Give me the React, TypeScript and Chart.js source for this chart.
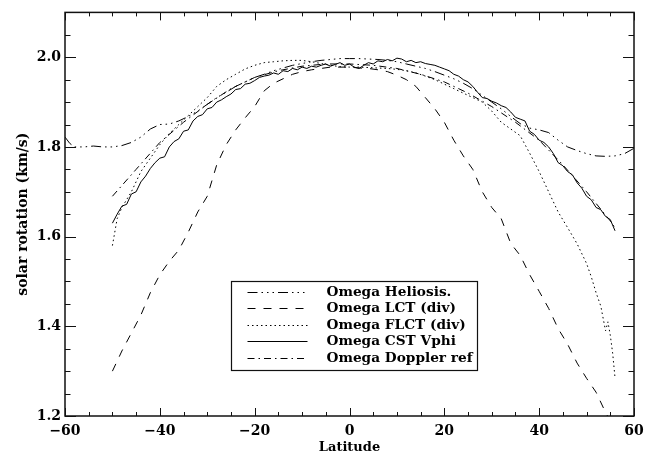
import React, { useEffect, useRef } from 'react';
import { Chart, registerables } from 'chart.js';

Chart.register(...registerables);

// ---------- data ----------
const X_TICKS = [-60, -40, -20, 0, 20, 40, 60];
const Y_TICKS = [1.2, 1.4, 1.6, 1.8, 2.0];

const SERIES_NAMES = [
  'Omega Heliosis.',
  'Omega LCT (div)',
  'Omega FLCT (div)',
  'Omega CST Vphi',
  'Omega Doppler ref',
];

const HELIOSIS_LAT = [-60, -59, -58, -56, -54, -52, -50, -48, -46, -44, -42, -40, -38, -36, -34, -32, -30, -28, -26, -24, -22, -20, -18, -16, -14, -12, -10, -8, -6, -4, -2, 0, 2, 4, 6, 8, 10, 12, 14, 16, 18, 20, 22, 24, 26, 28, 30, 32, 34, 36, 38, 40, 42, 44, 46, 48, 50, 52, 54, 56, 58, 60];
const HELIOSIS_VAL = [1.822, 1.808, 1.800, 1.800, 1.802, 1.800, 1.800, 1.803, 1.810, 1.822, 1.840, 1.850, 1.851, 1.858, 1.868, 1.880, 1.895, 1.910, 1.922, 1.935, 1.945, 1.955, 1.962, 1.970, 1.976, 1.982, 1.986, 1.990, 1.993, 1.995, 1.997, 1.997, 1.997, 1.996, 1.995, 1.993, 1.990, 1.985, 1.980, 1.975, 1.968, 1.960, 1.952, 1.942, 1.930, 1.915, 1.900, 1.885, 1.868, 1.852, 1.842, 1.838, 1.832, 1.815, 1.800, 1.792, 1.785, 1.780, 1.779, 1.780, 1.785, 1.797];

const LCT_LAT = [-50, -48, -46, -44, -42, -40, -38, -36, -34, -32, -30, -28, -26, -24, -22, -20, -18, -16, -14, -12, -10, -8, -6, -4, -2, 0, 2, 4, 6, 8, 10, 12, 14, 16, 18, 20, 22, 24, 26, 28, 30, 32, 34, 36, 38, 40, 42, 44, 46, 48, 50, 52, 54, 56];
const LCT_VAL = [1.300, 1.345, 1.385, 1.425, 1.475, 1.515, 1.545, 1.570, 1.610, 1.655, 1.690, 1.760, 1.805, 1.838, 1.865, 1.890, 1.925, 1.942, 1.952, 1.962, 1.968, 1.972, 1.975, 1.978, 1.978, 1.978, 1.976, 1.975, 1.972, 1.968, 1.960, 1.950, 1.935, 1.910, 1.885, 1.855, 1.815, 1.780, 1.750, 1.700, 1.665, 1.640, 1.585, 1.558, 1.515, 1.478, 1.440, 1.395, 1.360, 1.318, 1.284, 1.253, 1.208, 1.170];

const FLCT_LAT = [-50, -49, -48, -46, -44, -42, -40, -38, -36, -34, -32, -30, -28, -26, -24, -22, -20, -18, -16, -14, -12, -10, -8, -6, -4, -2, 0, 2, 4, 6, 8, 10, 12, 14, 16, 18, 20, 22, 24, 26, 28, 30, 32, 34, 36, 38, 40, 42, 44, 46, 48, 50, 51, 52, 53, 54, 54.5, 55, 55.5, 56];
const FLCT_VAL = [1.580, 1.640, 1.665, 1.700, 1.745, 1.775, 1.805, 1.830, 1.850, 1.870, 1.890, 1.910, 1.935, 1.950, 1.962, 1.974, 1.982, 1.988, 1.990, 1.992, 1.993, 1.993, 1.990, 1.986, 1.982, 1.979, 1.978, 1.978, 1.977, 1.976, 1.975, 1.973, 1.970, 1.965, 1.958, 1.950, 1.940, 1.930, 1.920, 1.910, 1.900, 1.880, 1.855, 1.840, 1.825, 1.786, 1.745, 1.700, 1.655, 1.620, 1.584, 1.540, 1.510, 1.475, 1.445, 1.390, 1.410, 1.380, 1.340, 1.285];

const CST_LAT = [-50, -49, -48, -47, -46, -45, -44, -43, -42, -41, -40, -39, -38, -37, -36, -35, -34, -33, -32, -31, -30, -29, -28, -27, -26, -25, -24, -23, -22, -21, -20, -19, -18, -17, -16, -15, -14, -13, -12, -11, -10, -9, -8, -7, -6, -5, -4, -3, -2, -1, 0, 1, 2, 3, 4, 5, 6, 7, 8, 9, 10, 11, 12, 13, 14, 15, 16, 17, 18, 19, 20, 21, 22, 23, 24, 25, 26, 27, 28, 29, 30, 31, 32, 33, 34, 35, 36, 37, 38, 39, 40, 41, 42, 43, 44, 45, 46, 47, 48, 49, 50, 51, 52, 53, 54, 55, 56];
const CST_VAL = [1.630, 1.650, 1.668, 1.672, 1.695, 1.700, 1.722, 1.735, 1.752, 1.765, 1.775, 1.778, 1.800, 1.812, 1.818, 1.835, 1.838, 1.858, 1.868, 1.872, 1.885, 1.888, 1.900, 1.905, 1.912, 1.918, 1.928, 1.930, 1.940, 1.942, 1.948, 1.955, 1.958, 1.960, 1.965, 1.962, 1.970, 1.968, 1.975, 1.972, 1.978, 1.975, 1.980, 1.978, 1.982, 1.985, 1.980, 1.984, 1.988, 1.982, 1.985, 1.978, 1.975, 1.982, 1.988, 1.985, 1.992, 1.990, 1.995, 1.992, 1.998, 1.996, 1.990, 1.993, 1.988, 1.990, 1.986, 1.984, 1.982, 1.978, 1.974, 1.970, 1.962, 1.958, 1.950, 1.945, 1.935, 1.922, 1.910, 1.908, 1.902, 1.898, 1.892, 1.888, 1.878, 1.866, 1.862, 1.858, 1.835, 1.828, 1.815, 1.810, 1.800, 1.785, 1.765, 1.758, 1.745, 1.738, 1.720, 1.708, 1.690, 1.682, 1.665, 1.660, 1.645, 1.638, 1.613];

const DOPPLER_LAT = [-50, -45, -40, -35, -30, -25, -20, -15, -10, -5, 0, 5, 10, 15, 20, 25, 30, 35, 40, 45, 50, 55, 56];
const DOPPLER_VAL = [1.690, 1.750, 1.810, 1.855, 1.895, 1.930, 1.955, 1.970, 1.980, 1.985, 1.985, 1.982, 1.975, 1.962, 1.945, 1.920, 1.890, 1.855, 1.815, 1.760, 1.700, 1.635, 1.620];

const DASHES: number[][] = [
  [10, 4, 1.5, 4, 1.5, 4, 1.5, 4],
  [8, 8],
  [1.5, 3],
  [],
  [7, 4, 1.5, 4],
];

const FONT = 'DejaVu Serif';

function pts(lat: number[], val: number[]) {
  return lat.map((x, i) => ({ x, y: val[i] }));
}

const framePlugin = {
  id: 'idlFrame',
  afterDraw(chart: any) {
    const { ctx, chartArea: ca, scales } = chart;
    const xs = scales.x;
    const ys = scales.y;
    ctx.save();
    ctx.strokeStyle = '#111';
    ctx.lineWidth = 1.5;
    ctx.strokeRect(ca.left, ca.top, ca.right - ca.left, ca.bottom - ca.top);
    ctx.lineWidth = 1;
    ctx.beginPath();
    for (let v = -60; v <= 60; v += 5) {
      const px = Math.round(xs.getPixelForValue(v)) + 0.5;
      const len = v % 20 === 0 ? 8 : 4;
      ctx.moveTo(px, ca.bottom);
      ctx.lineTo(px, ca.bottom - len);
      ctx.moveTo(px, ca.top);
      ctx.lineTo(px, ca.top + len);
    }
    for (let i = 0; i <= 18; i++) {
      const v = 1.2 + 0.05 * i;
      const py = Math.round(ys.getPixelForValue(v)) + 0.5;
      const len = i % 4 === 0 ? 11 : 5.5;
      ctx.moveTo(ca.left, py);
      ctx.lineTo(ca.left + len, py);
      ctx.moveTo(ca.right, py);
      ctx.lineTo(ca.right - len, py);
    }
    ctx.stroke();

    // legend box
    const w = ca.right - ca.left;
    const h = ca.bottom - ca.top;
    const bl = Math.round(ca.left + 0.2917 * w) + 0.5;
    const br = Math.round(ca.left + 0.724 * w) + 0.5;
    const bt = Math.round(ca.top + 0.6667 * h) + 0.5;
    const bb = Math.round(ca.top + 0.886 * h) + 0.5;
    ctx.lineWidth = 1.2;
    ctx.strokeStyle = '#111';
    ctx.strokeRect(bl, bt, br - bl, bb - bt);
    ctx.font = `bold 13.7px "${FONT}"`;
    ctx.fillStyle = '#000';
    ctx.textBaseline = 'middle';
    ctx.textAlign = 'left';
    chart.data.datasets.forEach((ds: any, i: number) => {
      const yy = Math.round(bt + 10 + i * 16.5) + 0.5;
      ctx.save();
      ctx.lineWidth = 1;
      ctx.strokeStyle = '#000';
      ctx.setLineDash(ds.borderDash || []);
      ctx.beginPath();
      ctx.moveTo(bl + 16, yy);
      ctx.lineTo(bl + 76, yy);
      ctx.stroke();
      ctx.restore();
      ctx.fillText(ds.label, bl + 95, yy);
    });
    ctx.restore();
  },
};

export default function App() {
  const ref = useRef<HTMLCanvasElement | null>(null);
  useEffect(() => {
    if (!ref.current) return;
    const series = [
      pts(HELIOSIS_LAT, HELIOSIS_VAL),
      pts(LCT_LAT, LCT_VAL),
      pts(FLCT_LAT, FLCT_VAL),
      pts(CST_LAT, CST_VAL),
      pts(DOPPLER_LAT, DOPPLER_VAL),
    ];
    const chart = new Chart(ref.current, {
      type: 'line',
      data: {
        datasets: series.map((d, i) => ({
          label: SERIES_NAMES[i],
          data: d,
          borderColor: '#000',
          borderWidth: 1,
          borderDash: DASHES[i],
          pointRadius: 0,
          fill: false,
          tension: 0,
        })),
      },
      options: {
        animation: false,
        responsive: false,
        devicePixelRatio: 1,
        layout: { padding: { top: 11, right: 22, left: 0, bottom: 0 } },
        plugins: { legend: { display: false }, tooltip: { enabled: false } },
        scales: {
          x: {
            type: 'linear',
            min: -60,
            max: 60,
            afterBuildTicks: (s: any) => {
              s.ticks = X_TICKS.map((v) => ({ value: v }));
            },
            afterFit: (s: any) => {
              s.height = 39;
            },
            grid: { display: false, drawTicks: false },
            border: { display: false },
            ticks: {
              color: '#000',
              font: { family: FONT, size: 14, weight: 'bold' },
              padding: 7,
              maxRotation: 0,
              callback: (v: any) => (Number(v) < 0 ? '\u2212' + Math.abs(Number(v)) : String(v)),
            },
            title: {
              display: true,
              text: 'Latitude',
              color: '#000',
              font: { family: FONT, size: 13, weight: 'bold' },
              padding: { top: 1, bottom: 0 },
            },
          },
          y: {
            type: 'linear',
            min: 1.2,
            max: 2.1,
            afterBuildTicks: (s: any) => {
              s.ticks = Y_TICKS.map((v) => ({ value: v }));
            },
            afterFit: (s: any) => {
              s.width = 65;
            },
            grid: { display: false, drawTicks: false },
            border: { display: false },
            ticks: {
              color: '#000',
              font: { family: FONT, size: 14, weight: 'bold' },
              padding: 4,
              callback: (v: any) => Number(v).toFixed(1),
            },
            title: {
              display: true,
              text: 'solar rotation (km/s)',
              color: '#000',
              font: { family: FONT, size: 14, weight: 'bold' },
              padding: { top: 15, bottom: 0 },
            },
          },
        },
      },
      plugins: [framePlugin],
    } as any);
    return () => chart.destroy();
  }, []);
  return (
    <div style={{ position: 'absolute', left: 0, top: 0, width: 656, height: 455, background: '#fff' }}>
      <canvas ref={ref} width={656} height={455} style={{ display: 'block' }} />
    </div>
  );
}
